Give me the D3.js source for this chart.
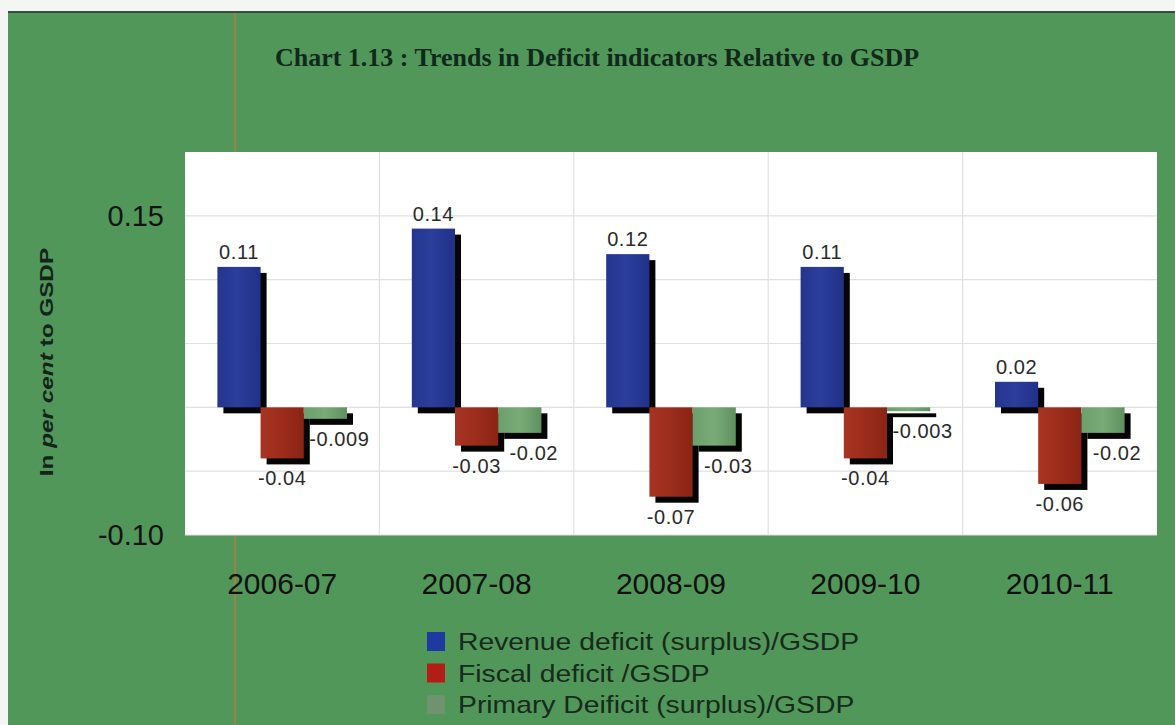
<!DOCTYPE html>
<html>
<head>
<meta charset="utf-8">
<script src="https://cdn.jsdelivr.net/npm/d3@7"></script>
<style>
  html, body { margin: 0; padding: 0; background: #f4f6f4; }
  svg { display: block; }
</style>
</head>
<body>
<svg id="chart" width="1175" height="725"></svg>
<script>
// Fiscal years on the category axis
const years = ["2006-07", "2007-08", "2008-09", "2009-10", "2010-11"];

// Series names (legend order)
const seriesNames = [
  "Revenue deficit (surplus)/GSDP",
  "Fiscal deficit /GSDP",
  "Primary Deificit (surplus)/GSDP"
];

// Values per year, in per cent to GSDP
const revenueDeficit = [0.11, 0.14, 0.12, 0.11, 0.02];
const fiscalDeficit  = [-0.04, -0.03, -0.07, -0.04, -0.06];
const primaryDeficit = [-0.009, -0.02, -0.03, -0.003, -0.02];

// Value axis
const yTickLabels = ["0.15", "-0.10"];
const yGridValues = [-0.10, -0.05, 0, 0.05, 0.10, 0.15];

const seriesValues = [revenueDeficit, fiscalDeficit, primaryDeficit];

const svg = d3.select("#chart");
const W = 1175, H = 725;
const plot = { left: 185, right: 1157, top: 152, bottom: 535 };

// Gradients for the bar faces
const defs = svg.append("defs");
function hGrad(id, stops) {
  const g = defs.append("linearGradient").attr("id", id)
    .attr("x1", "0").attr("x2", "1").attr("y1", "0").attr("y2", "0");
  stops.forEach(([o, c]) => g.append("stop").attr("offset", o).attr("stop-color", c));
}
hGrad("gBlue",  [[0, "#24358c"], [0.45, "#2b3e9c"], [1, "#213188"]]);
hGrad("gRed",   [[0, "#a83422"], [0.5, "#9c2c1c"], [1, "#8a2414"]]);
hGrad("gGreen", [[0, "#6c9f6c"], [0.5, "#78ab76"], [1, "#5f915f"]]);
const fills = ["url(#gBlue)", "url(#gRed)", "url(#gGreen)"];
const legendColors = ["#1c3aa2", "#b41c16", "#6f936f"];

// Page frame
svg.append("rect").attr("x", 8).attr("y", 12).attr("width", W - 8).attr("height", H - 12)
  .attr("fill", "#52975a");
svg.append("line").attr("x1", 8).attr("x2", W).attr("y1", 12).attr("y2", 12)
  .attr("stroke", "#3b4a3e").attr("stroke-width", 2);
svg.append("line").attr("x1", 235).attr("x2", 235).attr("y1", 13).attr("y2", H)
  .attr("stroke", "#e0703a").attr("stroke-width", 1.2).attr("opacity", 0.9);

// Title
svg.append("text")
  .attr("x", 597).attr("y", 66)
  .attr("text-anchor", "middle")
  .attr("font-family", "'Liberation Serif', 'Times New Roman', serif")
  .attr("font-weight", "bold")
  .attr("font-size", 26)
  .attr("fill", "#10291a")
  .text("Chart 1.13 : Trends in Deficit indicators Relative to GSDP");

// Scales
const x0 = d3.scaleBand().domain(years).range([plot.left, plot.right]).padding(0);
const bw = x0.bandwidth();
const x1 = d3.scaleBand().domain(d3.range(seriesNames.length))
  .range([bw / 6, bw * 5 / 6]).padding(0);
const y = d3.scaleLinear().domain([-0.10, 0.20]).range([plot.bottom, plot.top]);

// Plot area
svg.append("rect")
  .attr("x", plot.left).attr("y", plot.top)
  .attr("width", plot.right - plot.left).attr("height", plot.bottom - plot.top)
  .attr("fill", "#ffffff");

// Horizontal gridlines
svg.append("g").selectAll("line").data(yGridValues).join("line")
  .attr("x1", plot.left).attr("x2", plot.right)
  .attr("y1", d => y(d)).attr("y2", d => y(d))
  .attr("stroke", "#e0e0e0").attr("stroke-width", 1.2);

// Vertical gridlines at category boundaries
svg.append("g").selectAll("line").data(years.slice(1)).join("line")
  .attr("x1", d => x0(d)).attr("x2", d => x0(d))
  .attr("y1", plot.top).attr("y2", plot.bottom)
  .attr("stroke", "#e0e0e0").attr("stroke-width", 1.2);

// Flattened bar records
const bars = [];
years.forEach((yr, i) => {
  seriesValues.forEach((vals, s) => {
    bars.push({ year: yr, s, v: vals[i] });
  });
});
const barX = d => x0(d.year) + x1(d.s);
const barTop = d => y(Math.max(0, d.v));
const barH = d => Math.abs(y(d.v) - y(0));

// Drop shadows
const off = 6;
svg.append("g").selectAll("rect").data(bars).join("rect")
  .attr("x", d => barX(d) + off)
  .attr("y", d => barTop(d) + off)
  .attr("width", x1.bandwidth())
  .attr("height", d => Math.max(barH(d), 1.5))
  .attr("fill", "#050505");

// Bars
svg.append("g").selectAll("rect").data(bars).join("rect")
  .attr("x", d => barX(d))
  .attr("y", d => barTop(d))
  .attr("width", x1.bandwidth())
  .attr("height", d => Math.max(barH(d), 1.5))
  .attr("fill", d => fills[d.s]);

// Value labels
svg.append("g").selectAll("text").data(bars).join("text")
  .attr("font-family", "'Liberation Sans', Arial, sans-serif")
  .attr("font-size", 20)
  .attr("letter-spacing", 0.6)
  .attr("fill", "#2a2a2a")
  .attr("text-anchor", "middle")
  .attr("x", d => barX(d) + x1.bandwidth() / 2 + (d.s === 2 ? 14 : 0))
  .attr("y", d => d.v >= 0 ? y(d.v) - 8 : y(d.v) + 27)
  .text(d => String(d.v));

// Y tick labels
svg.append("g").selectAll("text").data(yTickLabels).join("text")
  .attr("x", 164)
  .attr("y", d => y(+d))
  .attr("dy", "0.36em")
  .attr("text-anchor", "end")
  .attr("font-family", "'Liberation Sans', Arial, sans-serif")
  .attr("font-size", 29)
  .attr("fill", "#141414")
  .text(d => d);

// Y axis title
const yt = svg.append("text")
  .attr("transform", "translate(53,362) rotate(-90) scale(1.28,1)")
  .attr("text-anchor", "middle")
  .attr("font-family", "'Liberation Sans', Arial, sans-serif")
  .attr("font-weight", "bold")
  .attr("font-size", 19)
  .attr("fill", "#14241a");
yt.append("tspan").text("In ");
yt.append("tspan").attr("font-style", "italic").text("per cent");
yt.append("tspan").text(" to GSDP");

// Category labels
svg.append("g").selectAll("text").data(years).join("text")
  .attr("x", d => x0(d) + bw / 2)
  .attr("y", 594)
  .attr("text-anchor", "middle")
  .attr("font-family", "'Liberation Sans', Arial, sans-serif")
  .attr("font-size", 30)
  .attr("fill", "#111111")
  .text(d => d);

// Legend
const lg = svg.append("g").attr("transform", "translate(427,632)");
const rows = lg.selectAll("g").data(seriesNames).join("g")
  .attr("transform", (d, i) => `translate(0,${i * 31.5})`);
rows.append("rect").attr("width", 18).attr("height", 19)
  .attr("fill", (d, i) => legendColors[i]);
rows.append("text")
  .attr("transform", "translate(31,18) scale(1.18,1)")
  .attr("font-family", "'Liberation Sans', Arial, sans-serif")
  .attr("font-size", 24)
  .attr("fill", "#172a1c")
  .text(d => d);
</script>
</body>
</html>
